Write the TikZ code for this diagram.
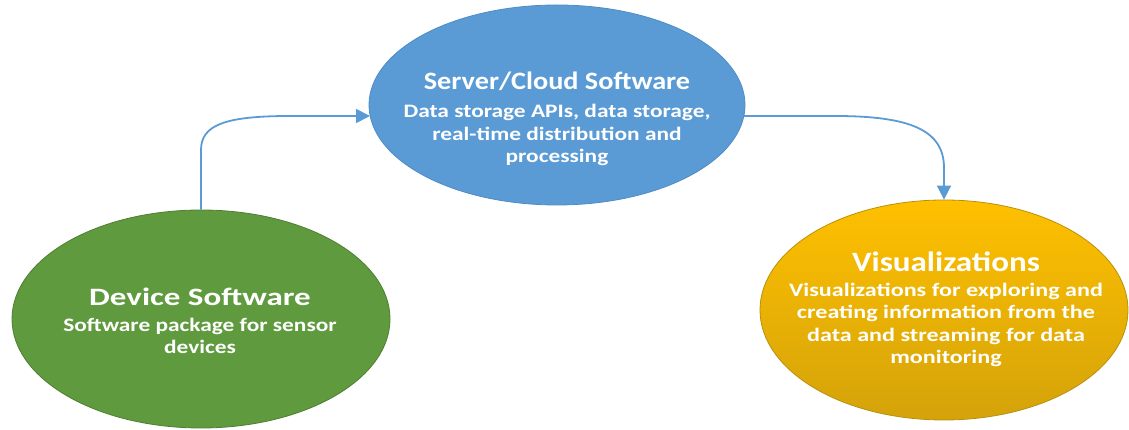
\documentclass[tikz,border=0pt]{standalone}
\usepackage{fontspec}
\setmainfont{Carlito}
\usetikzlibrary{shapes.geometric,arrows.meta,calc}
\definecolor{gfill}{HTML}{609A3F}
\definecolor{gline}{HTML}{4E7F30}
\definecolor{bfill}{HTML}{5B9BD5}
\definecolor{bline}{HTML}{4F8CC4}
\definecolor{otop}{HTML}{FFC000}
\definecolor{obot}{HTML}{D4A30A}
\definecolor{oline}{HTML}{B8900A}
\definecolor{arr}{HTML}{5B9BD5}
\tikzset{
  blob/.style={ellipse, inner sep=0pt, line width=0.8pt},
  ttl/.style={text=white, anchor=base, inner sep=0pt, transform shape,
    font=\bfseries\fontsize{25}{30}\selectfont},
  sub/.style={text=white, anchor=base, inner sep=0pt, align=center, transform shape,
    font=\bfseries\fontsize{19}{22.5}\selectfont},
  flow/.style={draw=arr, line width=1.8pt, -{Triangle[length=14pt,width=14pt]}}
}
\begin{document}
\begin{tikzpicture}[x=1pt,y=1pt]
\useasboundingbox (0,0) rectangle (1129,430);
\node[blob, draw=gline, fill=gfill, minimum width=378pt, minimum height=218pt] (dev) at (201,111) {};
\node[blob, draw=bline, fill=bfill, minimum width=376pt, minimum height=200pt] (srv) at (557,325) {};
\node[blob, draw=oline, top color=otop, bottom color=obot, minimum width=368pt, minimum height=220pt] (vis) at (944,120) {};

\node[ttl, xscale=1.32] (devT) at (200,124) {Device Software};
\node[sub, xscale=1.23] (devS) at (200,76) {Software package for sensor\\devices};

\node[ttl, xscale=1.13] (srvT) at (557,340.5) {Server/Cloud Software};
\node[sub, xscale=1.23] (srvS) at (557,267) {Data storage APIs, data storage,\\real-time distribution and\\processing};

\node[ttl, xscale=1.18, font=\bfseries\fontsize{28}{33}\selectfont] (visT) at (946,158) {Visualizations};
\node[sub, xscale=1.27] (visS) at (946,66) {Visualizations for exploring and\\creating information from the\\data and streaming for data\\monitoring};

\coordinate (a1) at (201,280);
\coordinate (a2) at (290,314);
\draw[flow] (dev.north) -- (a1) .. controls (201,305) and (225,314) .. (a2) -- ($(srv.center)+(-187,-11)$);
\coordinate (b1) at (835,314);
\coordinate (b2) at (944,262);
\draw[flow] ($(srv.center)+(187,-11)$) -- (b1) .. controls (910,314) and (944,300) .. (b2) -- (vis.north);
\end{tikzpicture}
\end{document}
